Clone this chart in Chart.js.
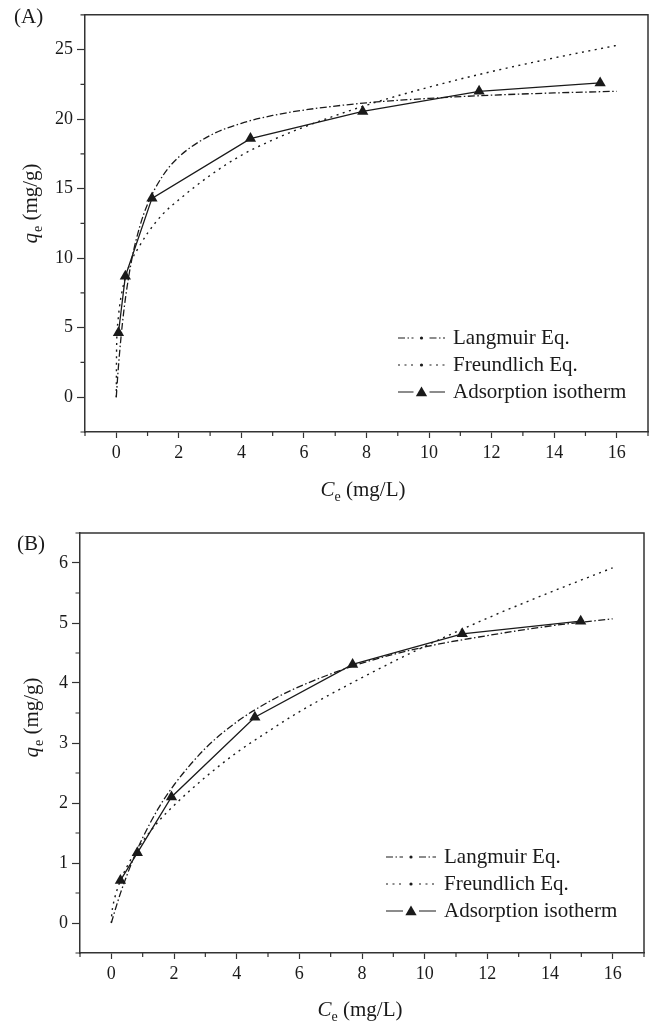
<!DOCTYPE html>
<html>
<head>
<meta charset="utf-8">
<script src="https://cdn.jsdelivr.net/npm/chart.js@4.4.0/dist/chart.umd.min.js"></script>
<style>
html, body { margin: 0; padding: 0; background: #fff; }
.panel { position: absolute; left: 0; width: 656px; height: 516px; }
#wrapA { top: 0; }
#wrapB { top: 516px; }
</style>
</head>
<body>
<div class="panel" id="wrapA"><canvas id="chartA" width="656" height="516"></canvas></div>
<div class="panel" id="wrapB"><canvas id="chartB" width="656" height="516"></canvas></div>
<script>
// shared axis ticks
const xTicks = [0, 2, 4, 6, 8, 10, 12, 14, 16];
const xMinor = [-1, 1, 3, 5, 7, 9, 11, 13, 15, 17];

// fitted curves are read at these Ce values
const fitCe = [0, 0.01, 0.05, 0.1, 0.2, 0.3, 0.5, 0.75, 1, 1.5, 2, 3, 4, 5, 6, 8, 10, 12, 14, 16];

// (A)
const aYTicks = [0, 5, 10, 15, 20, 25];
const aYMinor = [-2.5, 2.5, 7.5, 12.5, 17.5, 22.5, 27.5];
const aCe = [0.07, 0.29, 1.14, 4.29, 7.88, 11.6, 15.47];
const aQe = [4.64, 8.7, 14.3, 18.6, 20.55, 22.0, 22.6];
const aLangmuir = [0, 0.35, 1.64, 3.05, 5.39, 7.23, 9.96, 12.27, 13.88, 15.97, 17.28, 18.82, 19.7, 20.26, 20.65, 21.17, 21.49, 21.72, 21.88, 22.0];
const aFreundlich = [0, 3.48, 5.36, 6.46, 7.78, 8.68, 9.9, 10.9, 11.8, 13.2, 14.2, 15.95, 17.4, 18.5, 19.43, 21.0, 22.3, 23.42, 24.4, 25.3];

// (B)
const bYTicks = [0, 1, 2, 3, 4, 5, 6];
const bYMinor = [-0.5, 0.5, 1.5, 2.5, 3.5, 4.5, 5.5, 6.5];
const bCe = [0.29, 0.83, 1.92, 4.58, 7.7, 11.2, 14.98];
const bQe = [0.71, 1.17, 2.1, 3.43, 4.31, 4.82, 5.03];
const bLangmuir = [0, 0.02, 0.09, 0.18, 0.35, 0.51, 0.8, 1.13, 1.42, 1.91, 2.3, 2.91, 3.35, 3.68, 3.94, 4.33, 4.6, 4.79, 4.95, 5.07];
const bFreundlich = [0, 0.12, 0.28, 0.4, 0.58, 0.72, 0.94, 1.17, 1.36, 1.69, 1.96, 2.43, 2.84, 3.19, 3.52, 4.09, 4.61, 5.08, 5.51, 5.92];

const legendLabels = ["Langmuir Eq.", "Freundlich Eq.", "Adsorption isotherm"];

const SERIF = '"Liberation Serif", "Times New Roman", serif';
const INK = "#1a1a1a";
const LANG_DASH = [7, 2.5, 1.5, 2.5];
const FREU_DASH = [2, 4.5];

Chart.defaults.font.family = SERIF;
Chart.defaults.color = INK;

const pairs = (xs, ys) => xs.map((v, i) => ({ x: v, y: ys[i] }));

function drawTri(ctx, x, y, r) {
    ctx.beginPath();
    ctx.moveTo(x, y - r);
    ctx.lineTo(x + r * 0.866, y + r * 0.5);
    ctx.lineTo(x - r * 0.866, y + r * 0.5);
    ctx.closePath();
    ctx.fill();
}

function decor(o) {
    return {
        id: "decor",
        afterDraw(chart) {
            const { ctx, chartArea: a, scales: { x, y } } = chart;
            ctx.save();
            ctx.strokeStyle = "#333";
            ctx.fillStyle = INK;

            // top and right frame
            ctx.lineWidth = 1.5;
            ctx.beginPath();
            ctx.moveTo(a.left, a.top);
            ctx.lineTo(a.right, a.top);
            ctx.lineTo(a.right, a.bottom);
            ctx.stroke();

            // minor ticks
            ctx.lineWidth = 1.2;
            ctx.beginPath();
            xMinor.forEach(v => {
                const px = x.getPixelForValue(v);
                ctx.moveTo(px, a.bottom);
                ctx.lineTo(px, a.bottom + 4);
            });
            o.yMinor.forEach(v => {
                const py = y.getPixelForValue(v);
                ctx.moveTo(a.left - 4.5, py);
                ctx.lineTo(a.left, py);
            });
            ctx.stroke();

            // panel letter
            ctx.font = "21px " + SERIF;
            ctx.textBaseline = "middle";
            ctx.textAlign = "left";
            ctx.fillText(o.tag, o.tagX, o.tagY);

            // x title: C_e (mg/L)
            const big = "21px " + SERIF, bigIt = "italic 21px " + SERIF, small = "14px " + SERIF;
            ctx.font = bigIt; const wC = ctx.measureText("C").width;
            ctx.font = small; const wE = ctx.measureText("e").width;
            ctx.font = big; const wU = ctx.measureText(" (mg/L)").width;
            let sx = o.xTitleX - (wC + wE + wU) / 2;
            ctx.font = bigIt; ctx.fillText("C", sx, o.xTitleY);
            ctx.font = small; ctx.fillText("e", sx + wC, o.xTitleY + 7);
            ctx.font = big; ctx.fillText(" (mg/L)", sx + wC + wE, o.xTitleY);

            // y title: q_e (mg/g)
            ctx.save();
            ctx.translate(o.yTitleX, o.yTitleY);
            ctx.rotate(-Math.PI / 2);
            ctx.font = bigIt; const wq = ctx.measureText("q").width;
            ctx.font = small; const we = ctx.measureText("e").width;
            ctx.font = big; const wu = ctx.measureText(" (mg/g)").width;
            sx = -(wq + we + wu) / 2;
            ctx.font = bigIt; ctx.fillText("q", sx, 0);
            ctx.font = small; ctx.fillText("e", sx + wq + 1, 7);
            ctx.font = big; ctx.fillText(" (mg/g)", sx + wq + we + 1, 0);
            ctx.restore();

            // legend
            const lx0 = o.legX, lx1 = o.legX + o.legW, mid = (lx0 + lx1) / 2;
            ctx.strokeStyle = INK;
            ctx.lineWidth = 1.2;
            legendLabels.forEach((label, i) => {
                const ly = o.legY + i * o.legGap;
                ctx.setLineDash(i === 0 ? LANG_DASH : i === 1 ? FREU_DASH : []);
                ctx.beginPath();
                ctx.moveTo(lx0, ly);
                ctx.lineTo(mid - 8, ly);
                ctx.moveTo(mid + 8, ly);
                ctx.lineTo(lx1, ly);
                ctx.stroke();
                ctx.setLineDash([]);
                if (i < 2) {
                    ctx.beginPath();
                    ctx.arc(mid, ly, 1.6, 0, Math.PI * 2);
                    ctx.fill();
                } else {
                    drawTri(ctx, mid, ly + 1, 6.5);
                }
                ctx.font = "21px " + SERIF;
                ctx.textAlign = "left";
                ctx.fillText(label, o.legX + o.legW + 8, ly);
            });
            ctx.restore();
        }
    };
}

function makeChart(id, d) {
    return new Chart(document.getElementById(id), {
        type: "scatter",
        data: {
            datasets: [
                {
                    label: legendLabels[0],
                    data: pairs(fitCe, d.lang),
                    showLine: true,
                    borderColor: INK,
                    borderWidth: 1.3,
                    borderDash: LANG_DASH,
                    pointRadius: 0,
                    cubicInterpolationMode: "monotone"
                },
                {
                    label: legendLabels[1],
                    data: pairs(fitCe, d.freu),
                    showLine: true,
                    borderColor: INK,
                    borderWidth: 1.4,
                    borderDash: FREU_DASH,
                    pointRadius: 0,
                    cubicInterpolationMode: "monotone"
                },
                {
                    label: legendLabels[2],
                    data: pairs(d.ce, d.qe),
                    showLine: true,
                    borderColor: INK,
                    borderWidth: 1.3,
                    backgroundColor: INK,
                    pointStyle: "triangle",
                    pointRadius: 6.5,
                    pointBorderWidth: 0
                }
            ]
        },
        options: {
            responsive: false,
            animation: false,
            layout: { padding: { top: d.padTop, right: d.padRight, left: 0, bottom: 0 } },
            plugins: { legend: { display: false }, tooltip: { enabled: false } },
            scales: {
                x: {
                    type: "linear",
                    min: -1,
                    max: 17,
                    afterFit: s => { s.height = d.xHeight; },
                    afterBuildTicks: s => { s.ticks = xTicks.map(v => ({ value: v })); },
                    grid: { drawOnChartArea: false, tickLength: 6, tickWidth: 1.2, tickColor: "#333" },
                    border: { color: "#333", width: 1.5 },
                    ticks: { font: { size: 18 }, padding: 4, maxRotation: 0, color: INK }
                },
                y: {
                    type: "linear",
                    min: d.yMin,
                    max: d.yMax,
                    afterFit: s => { s.width = d.yWidth; },
                    afterBuildTicks: s => { s.ticks = d.yTicks.map(v => ({ value: v })); },
                    grid: { drawOnChartArea: false, tickLength: 8, tickWidth: 1.2, tickColor: "#333" },
                    border: { color: "#333", width: 1.5 },
                    ticks: { font: { size: 18 }, padding: 4, color: INK }
                }
            }
        },
        plugins: [decor(d.decor)]
    });
}

makeChart("chartA", {
    ce: aCe, qe: aQe, lang: aLangmuir, freu: aFreundlich,
    yMin: -2.5, yMax: 27.5, yTicks: aYTicks,
    padTop: 10, padRight: 8, xHeight: 84, yWidth: 85,
    decor: {
        yMinor: aYMinor, tag: "(A)", tagX: 14, tagY: 17,
        xTitleX: 363, xTitleY: 490, yTitleX: 31, yTitleY: 204,
        legX: 398, legW: 47, legY: 338, legGap: 27
    }
});

makeChart("chartB", {
    ce: bCe, qe: bQe, lang: bLangmuir, freu: bFreundlich,
    yMin: -0.5, yMax: 6.5, yTicks: bYTicks,
    padTop: 17, padRight: 12, xHeight: 79, yWidth: 80,
    decor: {
        yMinor: bYMinor, tag: "(B)", tagX: 17, tagY: 28,
        xTitleX: 360, xTitleY: 494, yTitleX: 32, yTitleY: 202,
        legX: 386, legW: 50, legY: 341, legGap: 27
    }
});
</script>
</body>
</html>
